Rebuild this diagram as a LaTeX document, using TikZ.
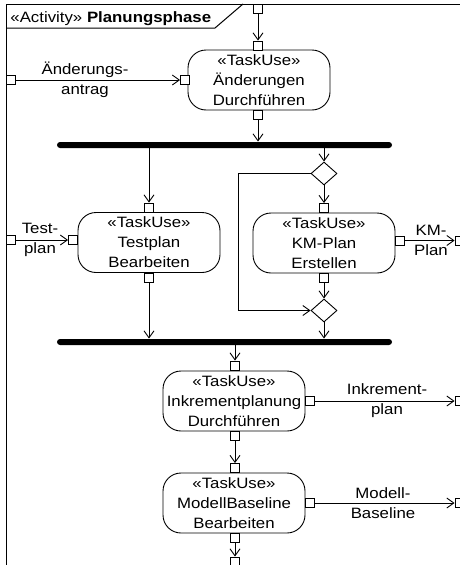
\documentclass[tikz,border=0pt]{standalone}
\usepackage{fontspec}
\setmainfont{Liberation Sans}[FakeStretch=1.12]
\usetikzlibrary{arrows.meta,shapes.geometric}

\begin{document}
\begin{tikzpicture}[x=1pt,y=-1pt,
    font=\fontsize{15}{20}\selectfont,
    line width=0.9pt,
    action/.style={draw,rounded corners=18pt,minimum width=142pt,minimum height=60pt,inner sep=0pt,align=center},
    port/.style={draw,fill=white,minimum size=9pt,inner sep=0pt},
    bar/.style={fill=black,rounded corners=3pt,minimum height=6pt,minimum width=335pt,inner sep=0pt},
    decision/.style={draw,diamond,minimum width=26pt,minimum height=23pt,inner sep=0pt},
    flow/.style={-{Straight Barb[length=7pt,width=10pt]}},
    flowlabel/.style={align=center,inner sep=0pt}]
  \clip (0,0) rectangle (460,565);
  % frame
  \draw[line width=1pt] (6,575) -- (6,4) -- (470,4);
  \draw[line width=1pt] (6,28) -- (215,28) -- (243,4);
  \node[anchor=base west,inner sep=0pt] (title) at (10,22) {«Activity» \textbf{Planungsphase}};

  % actions
  \node[action] (aend) at (259,80) {«TaskUse»\\Änderungen\\Durchführen};
  \node[action] (atest) at (149,242.5) {«TaskUse»\\Testplan\\Bearbeiten};
  \node[action] (akm) at (324,243) {«TaskUse»\\KM-Plan\\Erstellen};
  \node[action] (aink) at (234,401) {«TaskUse»\\Inkrementplanung\\Durchführen};
  \node[action] (amod) at (234,503) {«TaskUse»\\ModellBaseline\\Bearbeiten};

  % fork, join, decisions
  \node[bar] (fork) at (224.5,145) {};
  \node[bar] (join) at (224.5,342) {};
  \node[decision] (d1) at (324,173.5) {};
  \node[decision] (d2) at (324,310.5) {};
  \coordinate (bypass) at (238,0);

  % pins
  \node[port] (pin0) at (258,8.5) {};
  \node[port] (pin1) at (11,80) {};
  \node[port] (aendin) at (185,80) {};
  \node[port] (aendtop) at (258,45.5) {};
  \node[port] (aendbot) at (258,114.5) {};
  \node[port] (pin2) at (11,240) {};
  \node[port] (atestin) at (73,240) {};
  \node[port] (atesttop) at (149,207.5) {};
  \node[port] (atestbot) at (149,277.5) {};
  \node[port] (akmtop) at (324,208) {};
  \node[port] (akmbot) at (324,277.5) {};
  \node[port] (akmout) at (399.5,240.5) {};
  \node[port] (pin3) at (459.5,240.5) {};
  \node[port] (ainktop) at (235,365.5) {};
  \node[port] (ainkbot) at (235,436) {};
  \node[port] (ainkout) at (309.5,401) {};
  \node[port] (pin4) at (459.5,401) {};
  \node[port] (amodtop) at (235,468) {};
  \node[port] (amodbot) at (235,538) {};
  \node[port] (amodout) at (309.5,503) {};
  \node[port] (pin5) at (459.5,503) {};
  \node[port] (pin6) at (235,561.5) {};

  % object flow labels
  \node[flowlabel] (l1) at (85,80) {Änderungs-\\antrag};
  \node[flowlabel] (l2) at (40,239.5) {Test-\\plan};
  \node[flowlabel] (l3) at (431,240.5) {KM-\\Plan};
  \node[flowlabel] (l4) at (387,401) {Inkrement-\\plan};
  \node[flowlabel] (l5) at (383,503) {Modell-\\Baseline};

  % flows
  \draw[flow] (pin0) -- (aendtop);
  \draw[flow] (pin1) -- (aendin);
  \draw[flow] (aendbot) -- (aendbot |- fork.north);
  \draw[flow] (atesttop |- fork.south) -- (atesttop);
  \draw[flow] (d1 |- fork.south) -- (d1.north);
  \draw[flow] (d1.south) -- (akmtop);
  \draw[flow] (d1.west) -- (d1.west -| bypass) -- (d2.west -| bypass) -- (d2.west);
  \draw[flow] (pin2) -- (atestin);
  \draw[flow] (akmout) -- (pin3);
  \draw[flow] (akmbot) -- (d2.north);
  \draw[flow] (d2.south) -- (d2 |- join.north);
  \draw[flow] (atestbot) -- (atestbot |- join.north);
  \draw[flow] (ainktop |- join.south) -- (ainktop);
  \draw[flow] (ainkout) -- (pin4);
  \draw[flow] (ainkbot) -- (amodtop);
  \draw[flow] (amodout) -- (pin5);
  \draw[flow] (amodbot) -- (pin6);
\end{tikzpicture}
\end{document}
